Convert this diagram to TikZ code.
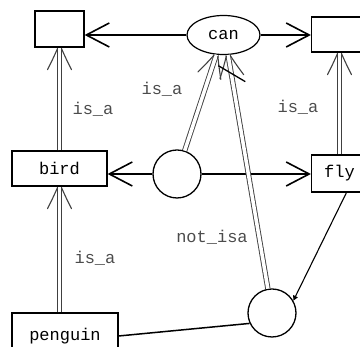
\documentclass[tikz,border=0pt]{standalone}
\usepackage{fontspec}
\setmonofont{Liberation Mono}
\usetikzlibrary{arrows.meta,shapes.geometric,decorations.markings}
\tikzset{
  frame/.style={draw, line width=1.2pt, inner sep=0pt},
  oval/.style={ellipse, draw, line width=1.2pt, inner sep=0pt},
  joint/.style={circle, draw, line width=1.3pt, minimum size=48pt, inner sep=0pt},
  link/.style={line width=1.6pt, -{Straight Barb[length=23pt,width=24pt]}},
  isabarb/.style={line width=1.1pt, draw=black!75, line cap=round},
  isa/.style={double, double distance=3.5pt, line width=0.9pt, draw=black!75,
    postaction={decorate, decoration={markings, mark=at position 1 with {
      \draw[isabarb] (-22pt,12pt) .. controls (-10pt,6pt) .. (-1pt,2pt);
      \draw[isabarb] (-22pt,-12pt) .. controls (-10pt,-6pt) .. (-1pt,-2pt);}}}},
  tie/.style={line width=1.5pt},
  hook/.style={line width=1.1pt, -{Triangle[length=5pt,width=5pt]}},
  tag/.style={text=black!70},
  every node/.style={font=\ttfamily\fontsize{17}{17}\selectfont},
}

\begin{document}
\begin{tikzpicture}[x=1pt,y=-1pt]
        \clip (0,0) rectangle (360,347);
        % concepts
        \node[frame, minimum width=49pt, minimum height=36pt] (thing) at (59.5,29) {};
        \node[oval, minimum width=73pt, minimum height=39pt] (can) at (223.5,35) {can};
        \node[frame, minimum width=56pt, minimum height=35pt] (ability) at (339.5,34.5) {};
        \node[frame, minimum width=95pt, minimum height=35pt] (bird) at (59.5,168.5) {bird};
        \node[joint] (rel) at (177,174) {};
        \node[frame, minimum width=56pt, minimum height=37pt] (fly) at (339.5,173.5) {fly};
        \node[frame, minimum width=106pt, minimum height=46pt] (penguin) at (65,336) {penguin};
        \node[joint] (exc) at (272,313) {};

        % relation arcs
        \draw[link] (can.west) -- (can.west -| thing.east);
        \draw[link] (can.east) -- (can.east -| ability.west);
        \draw[link] (rel.west) -- (rel.west -| bird.east);
        \draw[link] (rel.east) -- (rel.east -| fly.west);

        % is_a links
        \draw[isa] (bird) -- (thing);
        \draw[isa] (penguin.north -| bird.south) -- (bird.south);
        \draw[isa] (fly) -- (ability);
        \draw[isa] (rel) -- (can.250);

        % negated link with its cross stroke
        \draw[isa] (exc) -- (can.283) coordinate[pos=0.92] (neg);
        \draw[line width=1.3pt] ([shift={(-13,-8)}]neg) -- ([shift={(14,8)}]neg);

        % exception arcs
        \draw[tie] (penguin.east) -- (exc.205);
        \draw[hook] (fly.290) -- (exc.30);

        % labels
        \node[tag] (l1) at (93,109) {is\_a};
        \node[tag] (l2) at (162,89) {is\_a};
        \node[tag] (l3) at (298,107) {is\_a};
        \node[tag] (l4) at (95,258) {is\_a};
        \node[tag] (l5) at (212,237) {not\_isa};
    \end{tikzpicture}
\end{document}
